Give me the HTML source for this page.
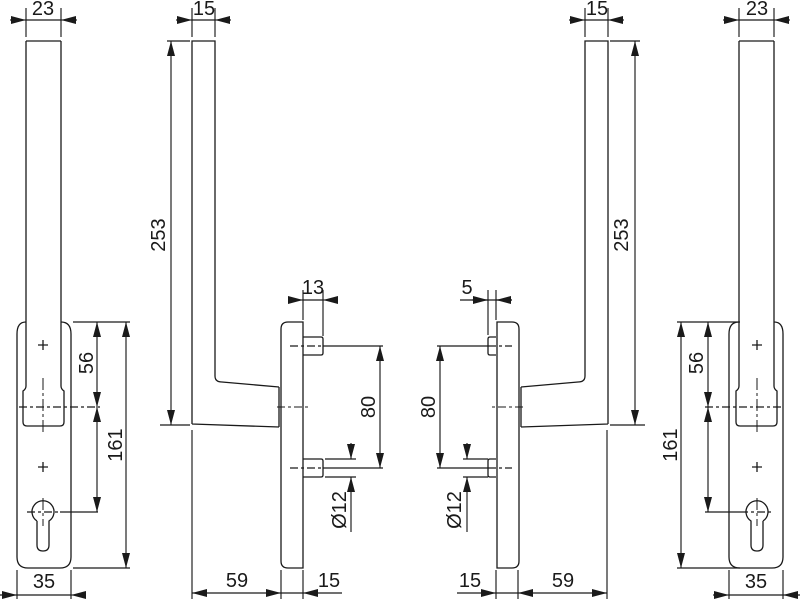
<!DOCTYPE html>
<html><head><meta charset="utf-8"><style>
html,body{margin:0;padding:0;background:#fff;}
svg{display:block;}
text{font-family:"Liberation Sans",sans-serif;font-size:20px;fill:#1a1a1a;text-anchor:middle;dominant-baseline:central;}
</style></head><body>
<svg width="800" height="599" viewBox="0 0 800 599" xmlns="http://www.w3.org/2000/svg">
<defs>
<marker id="a" markerUnits="userSpaceOnUse" markerWidth="15" markerHeight="8" refX="15" refY="4" orient="auto-start-reverse"><path d="M0,0 L15,4 L0,8 Z" fill="#1a1a1a"/></marker>
<g id="outer" fill="none" stroke="#1a1a1a" stroke-width="1.3">
<path d="M26,41 L61,41 M26,41 L26,386 Q26,389 23,391 L23,422 Q23,426 27,426 L60,426 Q64,426 64,422 L64,391 Q61,389 61,386 L61,41"/>
<path d="M26,322 Q17,322 17,334 L17,557 Q17,568 28,568 L60,568 Q71,568 71,557 L71,334 Q71,322 61,322"/>
<path d="M43,340 V350 M38,345 H48 M43,462 V472 M38,467 H48"/>
<path d="M37,521 L37,545 Q37,551 43,551 Q49,551 49,545 L49,521 A11,11 0 1 0 37,521"/>
<path d="M43,378 V432 M43,498 V526" stroke-dasharray="12,3,3,3" stroke-width="1"/>
</g>
<g id="mid" fill="none" stroke="#1a1a1a" stroke-width="1.3">
<path d="M192,424 L192,41 L215,41 L215,376 Q215,382 222,382 L279,387 M192,424 L279,427 M279,387 V427"/>
<path d="M303,322 L288,322 Q281,322 281,329 L281,561 Q281,568 288,568 L303,568 Z"/>
<path d="M277,407 H308" stroke-dasharray="8,3,3,3" stroke-width="1"/>
</g>
</defs>
<g stroke="#1a1a1a" stroke-width="1.15" fill="none">
<use href="#outer"/>
<use href="#mid"/>
<use href="#outer" transform="translate(800,0) scale(-1,1)"/>
<use href="#mid" transform="translate(800,0) scale(-1,1)"/>

<path d="M303,337 H321 Q323,337 323,339 V353 Q323,355 321,355 H303 M303,459 H321 Q323,459 323,461 V475 Q323,477 321,477 H303" stroke-width="1.3"/>
<path d="M496,337 H490 Q488,337 488,339 V353 Q488,355 490,355 H496 M496,459 H490 Q488,459 488,461 V475 Q488,477 490,477 H496" stroke-width="1.3"/>

<path d="M26,8 V37 M61,8 V37 M26,20 H61"/>
<path d="M10,20 H26" marker-end="url(#a)"/><path d="M77,20 H61" marker-end="url(#a)"/>
<path d="M73,322 H130 M73,568 H130 M60,512 H98"/>
<path d="M19,407 H100 M27,512 H60" stroke-dasharray="8,3,3,3"/>
<path d="M97,322 V407" marker-start="url(#a)" marker-end="url(#a)"/>
<path d="M97,407 V512" marker-start="url(#a)" marker-end="url(#a)"/>
<path d="M126,322 V568" marker-start="url(#a)" marker-end="url(#a)"/>
<path d="M17,570 V599 M71,570 V599 M17,595 H71"/>
<path d="M0,595 H17" marker-end="url(#a)"/><path d="M86,595 H71" marker-end="url(#a)"/>

<path d="M192,8 V37 M215,8 V37 M192,20 H215"/>
<path d="M176,20 H192" marker-end="url(#a)"/><path d="M231,20 H215" marker-end="url(#a)"/>
<path d="M171,41 V425" marker-start="url(#a)" marker-end="url(#a)"/>
<path d="M167,41 H190 M160,425 H190"/>
<path d="M303,290 V320 M323,290 V336 M303,300 H323"/>
<path d="M288,300 H303" marker-end="url(#a)"/><path d="M338,300 H323" marker-end="url(#a)"/>
<path d="M290,346 H323 M290,468 H323" stroke-dasharray="8,3,3,3"/>
<path d="M323,346 H383 M323,468 H383"/>
<path d="M380,346 V468" marker-start="url(#a)" marker-end="url(#a)"/>
<path d="M325,459 H356 M325,477 H356"/>
<path d="M351,443 V459" marker-end="url(#a)"/><path d="M351,532 V477" marker-end="url(#a)"/>
<path d="M192,430 V599 M281,570 V599 M303,570 V599"/>
<path d="M192,593 H281" marker-start="url(#a)" marker-end="url(#a)"/>
<path d="M342,593 H303" marker-end="url(#a)"/>
<path d="M281,593 H303"/>

<path d="M585,8 V37 M608,8 V37 M585,20 H608"/>
<path d="M569,20 H585" marker-end="url(#a)"/><path d="M624,20 H608" marker-end="url(#a)"/>
<path d="M635,41 V425" marker-start="url(#a)" marker-end="url(#a)"/>
<path d="M610,41 H640 M610,425 H645"/>
<path d="M488,290 V335 M496,290 V320 M460,300 H512"/>
<path d="M472,300 H488" marker-end="url(#a)"/><path d="M512,300 H496" marker-end="url(#a)"/>
<path d="M437,346 H488 M437,468 H488"/>
<path d="M488,346 H512 M488,468 H512" stroke-dasharray="8,3,3,3"/>
<path d="M440,346 V468" marker-start="url(#a)" marker-end="url(#a)"/>
<path d="M463,459 H488 M463,477 H488"/>
<path d="M467,443 V459" marker-end="url(#a)"/><path d="M467,532 V477" marker-end="url(#a)"/>
<path d="M496,570 V599 M518,570 V599 M607,430 V599"/>
<path d="M457,593 H496" marker-end="url(#a)"/>
<path d="M496,593 H518"/>
<path d="M518,593 H607" marker-start="url(#a)" marker-end="url(#a)"/>

<path d="M739,8 V37 M774,8 V37 M739,20 H774"/>
<path d="M723,20 H739" marker-end="url(#a)"/><path d="M790,20 H774" marker-end="url(#a)"/>
<path d="M677,322 H740 M677,568 H740 M705,512 H740"/>
<path d="M705,407 H781 M740,512 H773" stroke-dasharray="8,3,3,3"/>
<path d="M708,322 V407" marker-start="url(#a)" marker-end="url(#a)"/>
<path d="M708,407 V512" marker-start="url(#a)" marker-end="url(#a)"/>
<path d="M681,322 V568" marker-start="url(#a)" marker-end="url(#a)"/>
<path d="M729,570 V599 M783,570 V599 M729,595 H783"/>
<path d="M713,595 H729" marker-end="url(#a)"/><path d="M800,595 H783" marker-end="url(#a)"/>
</g>

<text x="43" y="9">23</text>
<text x="204" y="9">15</text>
<text x="597" y="9">15</text>
<text x="757" y="9">23</text>
<text x="159" y="235" transform="rotate(-90 159 235)">253</text>
<text x="622" y="235" transform="rotate(-90 622 235)">253</text>
<text x="313" y="288">13</text>
<text x="467" y="288">5</text>
<text x="87" y="363" transform="rotate(-90 87 363)">56</text>
<text x="116" y="445" transform="rotate(-90 116 445)">161</text>
<text x="697" y="363" transform="rotate(-90 697 363)">56</text>
<text x="671" y="445" transform="rotate(-90 671 445)">161</text>
<text x="369" y="407" transform="rotate(-90 369 407)">80</text>
<text x="429" y="407" transform="rotate(-90 429 407)">80</text>
<text x="340" y="510" transform="rotate(-90 340 510)">Ø12</text>
<text x="455" y="510" transform="rotate(-90 455 510)">Ø12</text>
<text x="44" y="582">35</text>
<text x="756" y="582">35</text>
<text x="237" y="581">59</text>
<text x="329" y="581">15</text>
<text x="470" y="581">15</text>
<text x="563" y="581">59</text>
</svg>
</body></html>
